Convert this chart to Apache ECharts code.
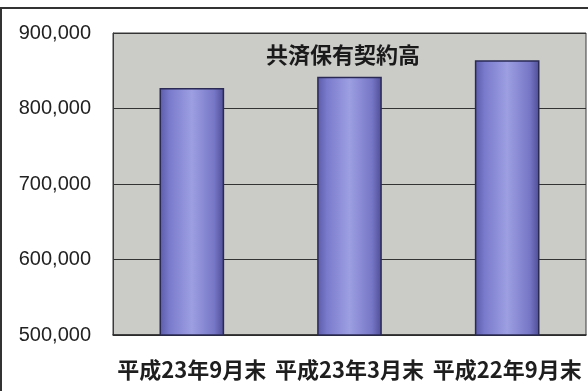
<!DOCTYPE html>
<html>
<head>
<meta charset="utf-8">
<script src="https://cdn.jsdelivr.net/npm/echarts@6/dist/echarts.min.js"></script>
<style>html,body{margin:0;padding:0;background:#fff}#c{width:588px;height:391px}</style>
</head>
<body>
<div id="c"></div>
<script>
const categories = ['平成23年9月末', '平成23年3月末', '平成22年9月末'];
const values = [827000, 842000, 864000];
const seriesName = '共済保有契約高';
const yMin = 500000, yMax = 900000, yStep = 100000;

const chart = echarts.init(document.getElementById('c'), null, {renderer: 'canvas'});
const barGrad = new echarts.graphic.LinearGradient(0, 0, 1, 0, [
  {offset: 0, color: '#5a5aa8'},
  {offset: 0.15, color: '#7a7acc'},
  {offset: 0.5, color: '#9d9fe2'},
  {offset: 0.85, color: '#7676c6'},
  {offset: 1, color: '#4c4c96'}
]);
chart.setOption({
  animation: false,
  backgroundColor: '#ffffff',
  grid: {left: 113, top: 33, right: 2, bottom: 56, show: true, backgroundColor: '#cbccc8', borderColor: '#3a3a3a', borderWidth: 1},
  xAxis: {
    type: 'category', data: categories,
    axisLine: {show: true, lineStyle: {color: '#2a2a2a', width: 1.5}},
    axisTick: {show: false},
    axisLabel: {margin: 24, fontSize: 22, fontWeight: 'bold', color: '#1e1e1e', fontFamily: 'Noto Sans CJK JP', interval: 0}
  },
  yAxis: {
    type: 'value', min: yMin, max: yMax, interval: yStep,
    axisLine: {show: true, lineStyle: {color: '#3a3a3a'}},
    axisTick: {show: false},
    splitLine: {lineStyle: {color: '#333', width: 1.2}},
    axisLabel: {margin: 22, fontSize: 20, color: '#222', fontFamily: 'Liberation Sans',
      formatter: v => v.toLocaleString('en-US')}
  },
  series: [{
    name: seriesName, type: 'bar', data: values, barWidth: '41%',
    itemStyle: {color: barGrad, borderColor: '#2a2a55', borderWidth: 1.5}
  }],
  graphic: [
    {type: 'line', shape: {x1: 0, y1: 8, x2: 588, y2: 8}, style: {stroke: '#333', lineWidth: 2}},
    {type: 'line', shape: {x1: 1, y1: 8, x2: 1, y2: 391}, style: {stroke: '#333', lineWidth: 2}},
    {type: 'text', x: 343, y: 55, z: 10, style: {text: seriesName, align: 'center', verticalAlign: 'middle', font: 'bold 22px "Noto Sans CJK JP"', fill: '#1a1a1a'}}
  ]
});
</script>
</body>
</html>
